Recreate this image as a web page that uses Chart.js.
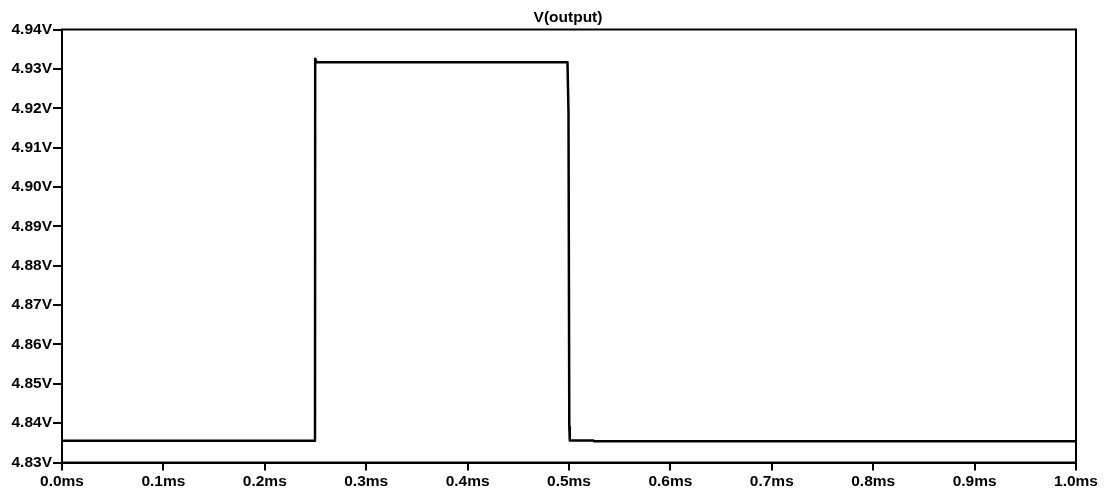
<!DOCTYPE html>
<html><head><meta charset="utf-8">
<script src="https://cdn.jsdelivr.net/npm/chart.js@4/dist/chart.umd.min.js"></script>
<style>html,body{margin:0;padding:0;background:#fff;}#wrap{width:1104px;height:493px;}</style>
</head><body><div id="wrap"><canvas id="c" width="1104" height="493"></canvas></div>
<script>
const title = "V(output)";
const timeMs = [0, 0.2495, 0.2497, 0.2510, 0.4985, 0.4995, 0.5003, 0.5008, 0.5240, 0.5250, 1.0];
const voltage = [4.8355, 4.8355, 4.9326, 4.9317, 4.9317, 4.9190, 4.8390, 4.8356, 4.8356, 4.8354, 4.8354];
const xTicks = [0, 0.1, 0.2, 0.3, 0.4, 0.5, 0.6, 0.7, 0.8, 0.9, 1.0];
const yTicks = [4.83, 4.84, 4.85, 4.86, 4.87, 4.88, 4.89, 4.90, 4.91, 4.92, 4.93, 4.94];

const font = {family: "'Liberation Sans', Arial, sans-serif", size: 15.5, weight: 'bold'};
const framePlugin = {
  id: 'frame',
  afterDraw(chart) {
    const {ctx, chartArea: a} = chart;
    ctx.save();
    ctx.strokeStyle = '#000';
    ctx.lineWidth = 2;
    ctx.strokeRect(a.left, a.top, a.right - a.left, a.bottom - a.top);
    ctx.fillStyle = '#000';
    ctx.font = "bold 15.5px 'Liberation Sans', Arial, sans-serif";
    ctx.textAlign = 'center';
    ctx.textBaseline = 'alphabetic';
    ctx.fillText(title, (a.left + a.right) / 2 - 1, a.top - 8);
    ctx.restore();
  }
};
new Chart(document.getElementById('c'), {
  type: 'line',
  data: {datasets: [{
    data: timeMs.map((t, i) => ({x: t, y: voltage[i]})),
    borderColor: '#000', borderWidth: 2.5, borderJoinStyle: 'round', borderCapStyle: 'round',
    pointRadius: 0, tension: 0, fill: false
  }]},
  options: {
    responsive: false, animation: false, devicePixelRatio: 1,
    layout: {padding: {top: 29.5, right: 28, left: 0, bottom: 0}},
    plugins: {legend: {display: false}, tooltip: {enabled: false}, title: {display: false}},
    scales: {
      x: {
        type: 'linear', min: 0, max: 1,
        afterBuildTicks(s) { s.ticks = xTicks.map(v => ({value: v})); },
        afterFit(s) { s.height = 30.5; },
        grid: {drawOnChartArea: false, drawTicks: true, tickLength: 8, color: '#000', lineWidth: 2},
        border: {display: true, color: '#000', width: 2},
        ticks: {color: '#000', font, padding: 2, maxRotation: 0, autoSkip: false,
          callback: v => v.toFixed(1) + 'ms'}
      },
      y: {
        type: 'linear', min: 4.83, max: 4.94,
        afterBuildTicks(s) { s.ticks = yTicks.map(v => ({value: v})); },
        afterFit(s) { s.width = 62; },
        grid: {drawOnChartArea: false, drawTicks: true, tickLength: 9, color: '#000', lineWidth: 2},
        border: {display: true, color: '#000', width: 2},
        ticks: {color: '#000', font, padding: 1, autoSkip: false,
          callback: v => v.toFixed(2) + 'V'}
      }
    }
  },
  plugins: [framePlugin]
});
</script></body></html>
